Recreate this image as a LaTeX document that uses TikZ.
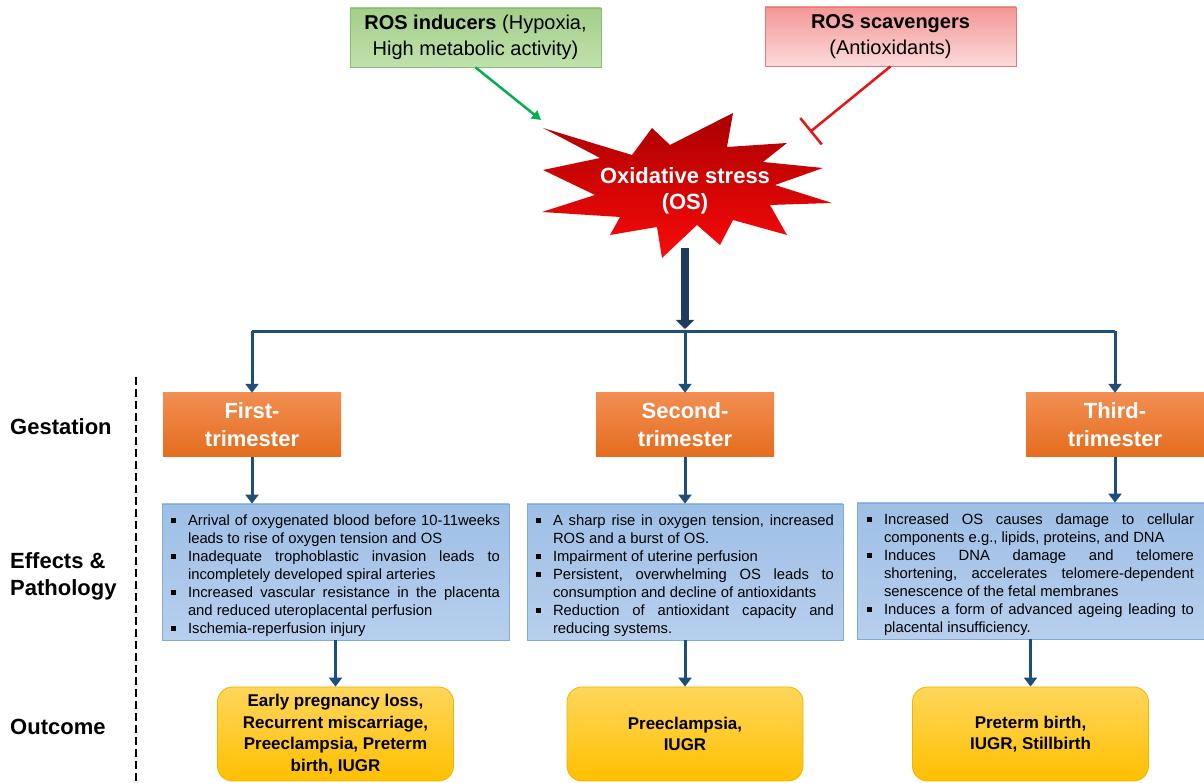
\documentclass[tikz,border=0pt]{standalone}
\usepackage{fontspec}
\setmainfont{Liberation Sans}
\usetikzlibrary{arrows.meta}
\newcommand{\bul}{\par\hangindent=17pt\hangafter=1\noindent\makebox[17pt][l]{\rule[2.6pt]{4.5pt}{4.5pt}}}
\newcommand{\efffont}{\fontsize{14.8}{18}\selectfont\frenchspacing\hyphenpenalty=10000 \exhyphenpenalty=10000 }

\begin{document}
\begin{tikzpicture}[x=1pt,y=1pt,
  srcbox/.style={draw=#1Line,line width=0.8pt,top color=#1Top,bottom color=#1Bot,
    minimum width=251pt,minimum height=59pt,inner sep=0pt,align=center,
    font=\fontsize{20}{26}\selectfont},
  trim/.style={top color=trimTop,bottom color=trimBot,minimum width=178pt,minimum height=64pt,
    inner sep=0pt,text=white,align=center,font=\fontsize{22}{28}\selectfont\bfseries},
  effect/.style={draw=effLine,line width=0.8pt,top color=effTop,bottom color=effBot,
    text width=#1,minimum height=136pt,inner xsep=9pt,inner ysep=0pt,align=justify,
    font=\efffont},
  outcome/.style={draw=outLine,line width=0.8pt,top color=outTop,bottom color=outBot,
    rounded corners=15pt,minimum width=236pt,minimum height=94pt,align=center,
    font=\fontsize{17}{21.5}\selectfont\bfseries},
  rowlabel/.style={anchor=west,align=left,inner sep=0pt,font=\fontsize{22}{27}\selectfont\bfseries},
  link/.style={draw=linkCol,line width=3pt},
  arr/.style={link,-{Triangle[width=13pt,length=9pt]}}]
\definecolor{indTop}{RGB}{163,206,138}
\definecolor{indBot}{RGB}{192,225,172}
\definecolor{indLine}{RGB}{140,190,110}
\definecolor{indArrow}{RGB}{0,176,80}
\definecolor{scvTop}{RGB}{243,150,150}
\definecolor{scvBot}{RGB}{252,218,218}
\definecolor{scvLine}{RGB}{232,120,120}
\definecolor{scvArrow}{RGB}{232,20,20}
\definecolor{burstTop}{RGB}{170,0,0}
\definecolor{burstMid}{RGB}{235,0,0}
\definecolor{burstBot}{RGB}{250,10,10}
\definecolor{trunkCol}{RGB}{30,60,95}
\definecolor{linkCol}{RGB}{31,78,121}
\definecolor{trimTop}{RGB}{242,142,82}
\definecolor{trimBot}{RGB}{228,108,30}
\definecolor{effTop}{RGB}{158,191,230}
\definecolor{effBot}{RGB}{182,207,237}
\definecolor{effLine}{RGB}{130,170,215}
\definecolor{outTop}{RGB}{255,214,92}
\definecolor{outBot}{RGB}{255,192,0}
\definecolor{outLine}{RGB}{240,180,0}
\path[use as bounding box] (0,0) rectangle (1204,783);

\node[srcbox=ind] (ind) at (475.5,745.5) {\textbf{ROS inducers} (Hypoxia,\\High metabolic activity)};
\node[srcbox=scv] (scv) at (890.5,746.5) {\textbf{ROS scavengers}\\(Antioxidants)};

\shade[top color=burstTop,middle color=burstMid,bottom color=burstBot]
  (543,655) -- (632,628) -- (652,655) -- (670,638) -- (733,670) -- (727,636) --
  (787,640) -- (763,621) -- (823,615) -- (775,598) -- (832,580) -- (770,578) --
  (787,548) -- (733,563) -- (720,538) -- (697,558) -- (662,525) -- (657,556) --
  (610,548) -- (620,566) -- (542,571) -- (595,588) -- (543,613) -- (600,625) -- cycle;
\node[text=white,align=center,inner sep=0pt,minimum height=114pt,
  font=\fontsize{22}{26}\selectfont\bfseries] (os) at (685,592) {Oxidative stress\\(OS)};
\coordinate (osTL) at (541,663);
\coordinate (osTR) at (810,651);

\draw[line width=2.5pt,draw=indArrow,-{Triangle[width=10pt,length=9pt]}] (ind.south) -- (osTL);
\draw[line width=2.5pt,draw=scvArrow,-{Bar[width=34pt]}] (scv.south) -- (osTR);

\coordinate (hub) at (685,451.5);
\coordinate (b1) at (252,451.5);
\coordinate (b3) at (1115,451.5);
\draw[line width=8pt,draw=trunkCol,shorten >=2.5pt,-{Triangle[width=18pt,length=9pt]}] (os.south) -- (hub);
\draw[link] (b1) -- (b3);

\node[trim] (t1) at (252,358) {First-\\trimester};
\node[trim] (t2) at (685,358) {Second-\\trimester};
\node[trim] (t3) at (1115,358) {Third-\\trimester};
\draw[arr] (b1) -- (t1);
\draw[arr] (hub) -- (t2);
\draw[arr] (b3) -- (t3);

\node[effect=329pt] (e1) at (335.5,211) {%
\bul Arrival of oxygenated blood before 10-11weeks\linebreak leads to rise of oxygen tension and OS
\bul Inadequate trophoblastic invasion leads to\linebreak incompletely developed spiral arteries
\bul Increased vascular resistance in the placenta\linebreak and reduced uteroplacental perfusion
\bul Ischemia-reperfusion injury\par};
\node[effect=298pt] (e2) at (685,211) {%
\bul A sharp rise in oxygen tension, increased\linebreak ROS and a burst of OS.
\bul Impairment of uterine perfusion
\bul Persistent, overwhelming OS leads to\linebreak consumption and decline of antioxidants
\bul Reduction of antioxidant capacity and\linebreak reducing systems.\par};
\node[effect=327pt,inner xsep=10pt] (e3) at (1030.5,212) {%
\bul Increased OS causes damage to cellular\linebreak components e.g., lipids, proteins, and DNA
\bul Induces DNA damage and telomere\linebreak shortening, accelerates telomere-dependent\linebreak senescence of the fetal membranes
\bul Induces a form of advanced ageing leading to\linebreak placental insufficiency.\par};
\draw[arr] (t1) -- (t1 |- e1.north);
\draw[arr] (t2) -- (t2 |- e2.north);
\draw[arr] (t3) -- (t3 |- e3.north);

\node[outcome] (o1) at (335.5,49) {Early pregnancy loss,\\Recurrent miscarriage,\\Preeclampsia, Preterm\\birth, IUGR};
\node[outcome] (o2) at (685,49) {Preeclampsia,\\IUGR};
\node[outcome] (o3) at (1030.5,49) {Preterm birth,\\IUGR, Stillbirth};
\draw[arr] (e1) -- (o1);
\draw[arr] (e2) -- (o2);
\draw[arr] (e3) -- (o3);

\node[rowlabel] (gest) at (10,356) {Gestation};
\node[rowlabel] (effp) at (10,206.5) {Effects \&\\Pathology};
\node[rowlabel] (outc) at (10,56) {Outcome};
\draw[line width=2pt,dash pattern=on 8pt off 4pt] (136,406) -- (136,0);
\end{tikzpicture}
\end{document}
